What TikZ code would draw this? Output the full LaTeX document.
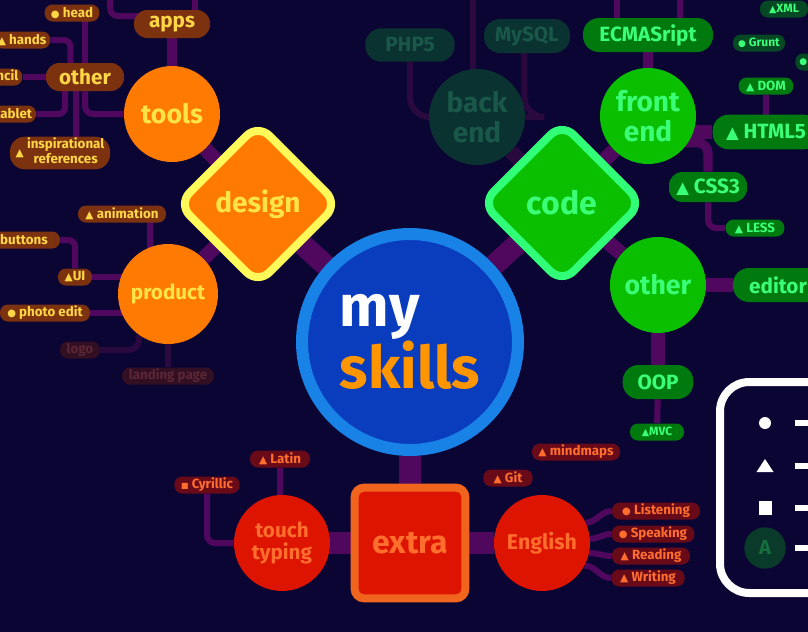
\documentclass[tikz,border=0pt]{standalone}
\usepackage{fontspec}
\setmainfont{Fira Sans}
\newfontfamily\symf{DejaVu Sans}
\usetikzlibrary{shapes.geometric,calc}
\pgfdeclarelayer{back}
\pgfdeclarelayer{links}
\pgfsetlayers{back,links,main}
\definecolor{bgc}{RGB}{11,5,52}
\definecolor{lk}{RGB}{80,8,95}
\definecolor{lkf}{RGB}{42,10,62}
\definecolor{orng}{RGB}{255,122,0}
\definecolor{dyel}{RGB}{255,250,90}
\definecolor{dtxt}{RGB}{255,228,70}
\definecolor{dpill}{RGB}{125,50,15}
\definecolor{dptxt}{RGB}{255,215,70}
\definecolor{dfade}{RGB}{50,15,35}
\definecolor{dfadet}{RGB}{92,38,52}
\definecolor{gcirc}{RGB}{10,190,0}
\definecolor{gtxt}{RGB}{60,255,120}
\definecolor{gbord}{RGB}{50,255,120}
\definecolor{gpill}{RGB}{0,122,15}
\definecolor{gpilld}{RGB}{5,72,35}
\definecolor{tfill}{RGB}{10,50,48}
\definecolor{ttxt}{RGB}{25,88,72}
\definecolor{rcirc}{RGB}{220,20,0}
\definecolor{rtxt}{RGB}{255,110,45}
\definecolor{rpill}{RGB}{105,10,25}
\definecolor{xbord}{RGB}{240,100,30}
\definecolor{cring}{RGB}{25,130,230}
\definecolor{cfill}{RGB}{10,60,190}
\definecolor{skor}{RGB}{255,150,0}
\definecolor{afill}{RGB}{10,58,42}
\definecolor{atxt}{RGB}{22,112,62}
\newcommand{\tri}{\scalebox{0.8}{\symf ▲}}
\newcommand{\bul}{\scalebox{0.75}{\symf ●}}
\newcommand{\sqm}{\scalebox{0.6}{\symf ■}}
\tikzset{
  circ/.style={circle, inner sep=0pt, minimum size=72pt, align=center},
  pillbig/.style={rectangle, rounded corners=10pt, minimum height=21pt, inner xsep=4pt, inner ysep=1pt, font=\bfseries\fontsize{15.5}{17}\selectfont},
  pillsmall/.style={rectangle, rounded corners=6pt, minimum height=12.75pt, inner xsep=3pt, inner ysep=1pt, font=\bfseries\fontsize{10}{11}\selectfont},
  dbig/.style={pillbig, fill=dpill, text=dptxt},
  dsmall/.style={pillsmall, fill=dpill, text=dptxt},
  dfaded/.style={pillsmall, fill=dfade, text=dfadet},
  gbig/.style={pillbig, fill=gpill, text=gtxt},
  gsmall/.style={pillsmall, fill=gpill, text=gtxt},
  gsmalld/.style={pillsmall, fill=gpilld, text=gtxt, font=\bfseries\fontsize{9}{10}\selectfont},
  fbig/.style={pillbig, fill=tfill, text=ttxt},
  rsmall/.style={pillsmall, fill=rpill, text=rtxt},
  mainlink/.style={draw=lk, line width=16pt},
  midlink/.style={draw=lk, line width=11pt},
  medlink/.style={draw=lk, line width=7pt},
  thinlink/.style={draw=lk, line width=4.5pt},
  fadelink/.style={draw=lkf, line width=4.5pt},
  fademid/.style={draw=lkf, line width=11pt},
}
\begin{document}
\begin{tikzpicture}[x=0.75pt,y=-0.75pt]
\useasboundingbox (0,0) rectangle (808,632);
\begin{pgfonlayer}{back}
\fill[bgc] (0,0) rectangle (808,632);
\end{pgfonlayer}

% ---------- centre ----------
\node[circle, fill=cfill, draw=cring, line width=9pt, minimum size=162pt, inner sep=0pt, align=left,
      font=\bfseries\fontsize{44}{40}\selectfont] (me) at (410,342) {\textcolor{white}{my}\\\textcolor{skor}{skills}};

\node[diamond, aspect=1, fill=orng, draw=dyel, line width=6pt, minimum size=122pt, rounded corners=12pt,
      inner sep=0pt, text=dtxt, font=\bfseries\fontsize{21}{22}\selectfont] (design) at (258,204) {design};
\node[diamond, aspect=1, fill=gcirc, draw=gbord, line width=6pt, minimum size=122pt, rounded corners=12pt,
      inner sep=0pt, text=gtxt, font=\bfseries\fontsize{24}{25}\selectfont] (code) at (562,203) {code};
\node[rectangle, fill=rcirc, draw=xbord, line width=6pt, minimum size=83pt, rounded corners=7pt,
      inner sep=0pt, text=rtxt, font=\bfseries\fontsize{24}{25}\selectfont] (extra) at (410,543) {extra};

% ---------- design tree ----------
\node[circ, fill=orng, text=dtxt, font=\bfseries\fontsize{20}{22}\selectfont] (tools) at (172,114) {tools};
\node[circ, minimum size=75pt, fill=orng, text=dtxt, font=\bfseries\fontsize{15.5}{17}\selectfont] (product) at (168,294) {product};
\node[dbig, minimum width=57pt] (apps) at (172,24) {apps};
\node[dbig, minimum width=58.5pt] (dother) at (85,77) {other};
\node[dsmall, minimum width=41pt] (head) at (72,13) {\bul\ head};
\node[dsmall] (hands) at (22,40) {\tri\ hands};
\node[dsmall] (pencil) at (-6,77) {\tri\ pencil};
\node[dsmall] (tablet) at (8,114) {\tri\ tablet};
\node[dsmall, minimum width=75pt, minimum height=24pt, rounded corners=11pt] (insp) at (60,153)
  {\tri\ \begin{tabular}{@{}c@{}}inspirational\\references\end{tabular}};
\node[dsmall, minimum width=66pt] (anim) at (122,214) {\tri\ animation};
\node[dsmall, minimum width=54pt] (buttons) at (24,240) {buttons};
\node[dsmall, minimum width=25.5pt] (ui) at (75,277) {\tri UI};
\node[dsmall, minimum width=67.5pt] (photo) at (45,313) {\bul\ photo edit};
\node[dfaded, minimum width=30pt] (logo) at (80,350) {logo};
\node[dfaded, minimum width=69pt] (landing) at (168,376) {landing page};

% ---------- code tree ----------
\node[circ, fill=gcirc, text=gtxt, font=\bfseries\fontsize{21}{22.5}\selectfont] (front) at (648,116) {front\\end};
\node[circ, fill=tfill, text=ttxt, font=\bfseries\fontsize{21}{22.5}\selectfont] (backend) at (477,117) {back\\end};
\node[circ, fill=gcirc, text=gtxt, font=\bfseries\fontsize{20}{22}\selectfont] (gother) at (658,285) {other};
\node[gbig, minimum width=97.5pt, minimum height=25.5pt, rounded corners=12pt] (ecma) at (648,35) {ECMASript};
\node[fbig, minimum width=64.5pt, minimum height=25.5pt, rounded corners=12pt] (mysql) at (527,36) {MySQL};
\node[fbig, minimum width=67pt, minimum height=25pt, rounded corners=12pt] (php) at (410,45) {PHP5};
\node[gsmalld, minimum width=36pt] (xml) at (784,9) {\tri XML};
\node[gsmalld, minimum width=39pt] (grunt) at (759,43) {\bul\ Grunt};
\node[gsmalld, anchor=west, text width=24pt, align=left] (gpart) at (795,62) {\bul};
\node[gsmall, minimum width=41pt] (dom) at (766,86) {\tri\ DOM};
\node[gbig, minimum width=80pt, minimum height=26pt, rounded corners=12pt] (html) at (766,132) {\tri\ HTML5};
\node[gbig, minimum width=58.5pt, minimum height=22.5pt] (css) at (708,187) {\tri\ CSS3};
\node[gsmall, minimum width=44pt] (less) at (755,228) {\tri\ LESS};
\node[gbig, minimum width=67.5pt, minimum height=25.5pt, rounded corners=12pt] (editor) at (778,285) {editor};
\node[gbig, minimum width=53pt, minimum height=25.5pt, rounded corners=12pt] (oop) at (658,382) {OOP};
\node[gsmall, minimum width=40.5pt, font=\bfseries\fontsize{9}{10}\selectfont] (mvc) at (657,432) {\tri MVC};

% ---------- extra tree ----------
\node[circ, fill=rcirc, text=rtxt, font=\bfseries\fontsize{15.5}{17}\selectfont] (touch) at (282,543) {touch\\typing};
\node[circ, fill=rcirc, text=rtxt, font=\bfseries\fontsize{16}{17}\selectfont] (english) at (542,543) {English};
\node[rsmall, minimum width=45pt] (latin) at (280,459) {\tri\ Latin};
\node[rsmall, minimum width=49pt] (cyr) at (207,485) {\sqm\ Cyrillic};
\node[rsmall, minimum width=37pt] (git) at (508,478) {\tri\ Git};
\node[rsmall, minimum width=66pt] (mind) at (576,452) {\tri\ mindmaps};
\node[rsmall, minimum width=66pt] (listen) at (656,511) {\bul\ Listening};
\node[rsmall, minimum width=62pt] (speak) at (653,534) {\bul\ Speaking};
\node[rsmall, minimum width=58.5pt] (read) at (651,556) {\tri\ Reading};
\node[rsmall, minimum width=55pt] (write) at (648,578) {\tri\ Writing};

% ---------- legend ----------
\draw[white, line width=6pt, rounded corners=22pt] (720,382) rectangle (880,593);
\fill[white] (765,423) circle (4.5pt);
\fill[white] (756.5,472) -- (773.5,472) -- (765,459) -- cycle;
\fill[white] (759,501) rectangle (772,515);
\node[circle, fill=afill, text=atxt, minimum size=31pt, inner sep=0pt, font=\bfseries\fontsize{15}{16}\selectfont] (legA) at (765,548) {A};
\foreach \yy in {423,466,508,548} \draw[white, line width=4.5pt] (795,\yy) -- (815,\yy);

% ---------- connectors ----------
\coordinate (ta) at (195,-10);
\coordinate (tb) at (110,-10);
\coordinate (tc) at (617,-10);
\coordinate (td) at (680,-10);
\coordinate (te) at (473,-10);
\coordinate (appsw) at ([yshift=6pt]apps.center);
\coordinate (dx1) at ([xshift=-11pt]dother.center);
\coordinate (dx2) at ([xshift=-15pt]dother.center);
\coordinate (dx3) at ([xshift=-7pt]dother.center);
\coordinate (px1) at ([xshift=-13.5pt]product.center);
\coordinate (my1) at ([xshift=-2pt]mysql.center);
\coordinate (f1) at ([yshift=-20pt]front.center);
\begin{pgfonlayer}{links}
\draw[mainlink] (me) -- (design);
\draw[mainlink] (me) -- (code);
\draw[mainlink] (me) -- (extra);
\draw[midlink] (design) -- (tools);
\draw[midlink] (design) -- (product);
\draw[midlink] (code) -- (front);
\draw[midlink] (code) -- (gother);
\draw[fademid] (code) -- (backend);
\draw[mainlink] (extra) -- (touch);
\draw[mainlink] (extra) -- (english);
% design
\draw[medlink] (apps) -- (tools);
\draw[thinlink] (ta) -- (ta |- apps);
\draw[thinlink, rounded corners=6pt] (tb) |- (appsw);
\draw[thinlink, rounded corners=6pt] (tools) -| (dother);
\draw[thinlink] (dother) -- (dother |- head);
\draw[thinlink, rounded corners=5pt] (hands) -| (dx1);
\draw[thinlink] (pencil) -- (dother);
\draw[thinlink, rounded corners=5pt] (tablet) -| (dx2);
\draw[thinlink] (dx3) -- (dx3 |- insp);
\draw[thinlink] (px1) -- (px1 |- anim);
\draw[thinlink] (ui) -- (ui -| product);
\draw[thinlink, rounded corners=5pt] (buttons) -| (ui);
\draw[thinlink] (photo) -- (photo -| product);
\draw[fadelink, rounded corners=8pt] (logo) -| (product.235);
\draw[fadelink] (landing) -- (landing |- product);
% code
\draw[medlink] (front) -- (ecma);
\draw[thinlink] (tc) -- (tc |- ecma);
\draw[thinlink] (td) -- (td |- ecma);
\draw[fadelink] (te) -- (te |- backend);
\draw[fadelink, rounded corners=15pt] (php) |- (backend);
\draw[fadelink, rounded corners=15pt] (my1) |- (backend);
\draw[midlink] (html) -- (html -| front);
\draw[thinlink] (dom) -- (dom |- html);
\draw[medlink, rounded corners=8pt] (f1) -| (css);
\draw[thinlink, rounded corners=6pt] (css) |- (less);
\draw[midlink] (gother) -- (editor);
\draw[midlink] (gother) -- (oop);
\draw[thinlink] (oop) -- (mvc);
% extra
\draw[thinlink] (latin) -- (latin |- touch);
\draw[thinlink, rounded corners=6pt] (cyr) |- (touch);
\draw[thinlink] (english.25) to[out=0,in=180] (listen.west);
\draw[thinlink] (english.5) to[out=0,in=180] (speak.west);
\draw[thinlink] (english.-12) to[out=0,in=180] (read.west);
\draw[thinlink] (english.-28) to[out=0,in=180] (write.west);
\end{pgfonlayer}
\end{tikzpicture}
\end{document}
